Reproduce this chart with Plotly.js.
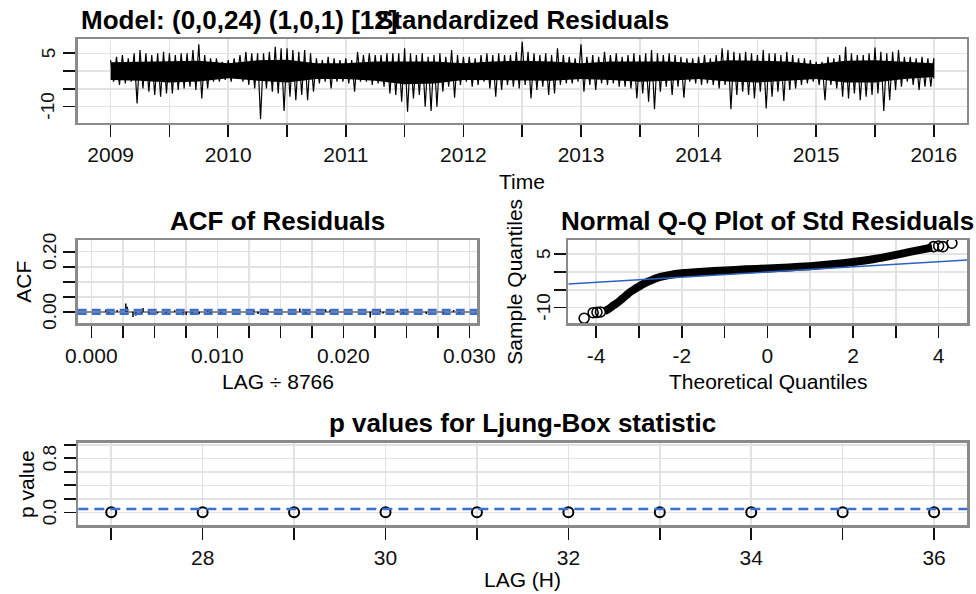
<!DOCTYPE html>
<html><head><meta charset="utf-8">
<script src="https://cdn.plot.ly/plotly-3.0.1.min.js"></script>
<style>html,body{margin:0;padding:0;background:#fff}#chart{width:976px;height:594px}</style>
</head><body><div id="chart"></div>
<script>
// ---------- Standardized residuals (envelope read per 0.05 year) ----------
const tsStart = 2009, tsStep = 0.05;
const tsHigh = [
 3.1,4.0,4.5,3.6,5.0,5.9,5.0,4.5,5.0,5.4, 5.0,4.5,5.0,5.0,5.9,7.5,4.5,3.6,3.6,2.6,
 3.1,3.6,4.5,5.4,5.0,5.0,5.0,5.4,6.8,6.4, 6.4,5.9,5.4,5.9,5.0,3.6,3.1,4.0,3.6,3.1,
 3.6,3.1,5.4,4.5,5.0,4.5,4.5,5.0,5.0,5.0, 6.4,5.0,4.5,5.0,4.0,4.5,5.0,4.0,5.9,4.5,
 4.0,4.0,3.6,4.5,5.0,4.5,5.0,4.5,4.5,5.4, 8.2,5.4,5.0,4.5,5.0,4.5,6.4,4.5,4.0,3.6,
 7.5,4.0,4.5,4.0,5.4,4.5,5.0,4.0,4.5,5.0, 4.5,5.0,5.9,5.0,4.5,5.0,4.5,4.0,3.6,3.6,
 4.0,4.5,3.6,4.5,6.4,5.9,5.4,5.0,5.4,5.0, 4.5,5.9,5.0,5.0,4.5,5.4,4.5,3.6,3.6,3.1,
 2.6,2.6,4.0,3.6,4.5,6.8,5.0,4.5,4.5,5.0, 6.6,5.4,5.0,5.4,5.9,4.0,4.0,3.6,4.0,3.6,
 3.6];
const tsLow = [
 -3.0,-3.9,-3.5,-3.0,-9.1,-4.9,-5.8,-6.7,-7.2,-6.3, -6.3,-5.3,-4.9,-4.4,-5.3,-7.7,-4.9,-3.0,-3.0,-2.5,
 -3.0,-2.1,-3.0,-3.9,-4.9,-13.5,-4.9,-5.8,-6.3,-11.2, -7.2,-8.2,-6.7,-8.2,-5.8,-3.5,-3.0,-4.9,-3.0,-3.0,
 -3.5,-5.8,-3.0,-3.0,-3.9,-3.5,-4.4,-6.3,-6.7,-8.6, -11.4,-7.7,-6.7,-10.0,-11.2,-10.0,-5.8,-4.4,-7.5,-3.9,
 -3.0,-4.4,-3.9,-3.0,-4.9,-7.2,-5.3,-3.9,-4.4,-4.9, -3.9,-7.7,-5.3,-4.4,-6.7,-6.3,-3.9,-3.5,-3.5,-3.0,
 -5.8,-3.9,-5.3,-3.5,-3.9,-3.5,-4.4,-4.4,-4.9,-7.7, -6.3,-8.6,-10.7,-5.8,-4.4,-6.7,-4.4,-7.5,-3.0,-3.5,
 -3.9,-3.5,-3.9,-4.9,-3.9,-10.7,-6.7,-5.8,-6.7,-7.7, -5.8,-10.5,-7.2,-5.8,-8.4,-5.3,-4.9,-3.9,-3.5,-3.0,
 -3.9,-8.2,-3.9,-4.9,-7.2,-7.7,-6.3,-8.2,-7.2,-6.7, -6.3,-11.2,-8.2,-5.3,-4.4,-3.0,-3.9,-5.3,-4.4,-4.4,
 -2.1];
// solid core of the series, read per quarter year
const coreTime = [2009,2009.25,2009.5,2009.75,2010,2010.25,2010.5,2010.75,2011,2011.25,2011.5,2011.75,2012,2012.25,2012.5,2012.75,2013,2013.25,2013.5,2013.75,2014,2014.25,2014.5,2014.75,2015,2015.25,2015.5,2015.75,2016];
const coreHigh = [2.5,2.7,2.7,2.9,2.2,3.0,3.2,2.2,2.2,2.7,2.7,2.7,2.2,2.7,2.9,2.7,2.2,2.7,2.7,2.7,2.2,3.0,2.9,2.7,1.9,2.9,3.0,2.5,2.2];
const coreLow  = [-2.5,-2.7,-3.2,-2.9,-2.0,-2.7,-3.2,-2.2,-2.2,-2.7,-3.7,-3.5,-2.5,-2.7,-2.7,-2.7,-2.2,-2.5,-3.0,-2.7,-2.2,-2.9,-3.2,-2.7,-2.2,-3.2,-3.2,-2.2,-1.7];
const topTickVals = [2009,2009.5,2010,2010.5,2011,2011.5,2012,2012.5,2013,2013.5,2014,2014.5,2015,2015.5,2016];
const topTickText = ['2009','','2010','','2011','','2012','','2013','','2014','','2015','','2016'];
const topYTicks = [-10,-5,0,5];
const topYText = ['-10','','','5'];

// ---------- ACF of residuals ----------
const acfFreq = 8766;
const acfLagHours = [10,12,18,24,25,29,31,35,36,40,46,52,58,64,66,70,75,81,83,90,113,116,123,145,149,163,166,194,201,203,213,217,233,245,252,256];
const acfValues = [0.007,-0.006,0.006,0.028,0.017,-0.017,-0.013,-0.009,0.013,-0.006,-0.005,-0.006,0.005,-0.011,-0.010,-0.009,-0.008,0.006,-0.007,-0.009,0.006,-0.007,0.005,0.011,-0.005,0.009,0.006,-0.019,0.009,-0.005,0.005,-0.006,-0.007,-0.005,0.006,-0.004];
const acfBound = 0.0065;
const acfTickVals = [0,0.0025,0.005,0.0075,0.01,0.0125,0.015,0.0175,0.02,0.0225,0.025,0.0275,0.03];
const acfTickText = ['0.000','','','','0.010','','','','0.020','','','','0.030'];
const acfYTicks = [0,0.05,0.1,0.15,0.2];
const acfYText = ['0.00','','','','0.20'];

// ---------- Normal Q-Q ----------
const qqBandTheo   = [-3.8,-3.7,-3.6,-3.5,-3.4,-3.3,-3.2,-3.1,-3.0,-2.9,-2.8,-2.7,-2.6,-2.5,-2.3,-2.0,-1.5,-1.0,-0.5,0,0.5,1.0,1.5,2.0,2.5,3.0,3.3,3.6,3.85];
const qqBandSample = [-11.0,-10.3,-9.4,-8.6,-7.6,-6.6,-5.6,-4.8,-4.1,-3.4,-2.8,-2.3,-1.8,-1.4,-0.9,-0.4,0.05,0.4,0.7,0.95,1.25,1.6,2.1,2.75,3.6,4.75,5.5,6.2,6.8];
const qqTailTheo   = [-4.28,-4.07,-3.98,-3.9,3.88,4.0,4.1,4.31];
const qqTailSample = [-12.96,-11.4,-11.3,-11.2,7.04,7.23,7.04,8.0];
const qqLineIntercept = -0.03, qqLineSlope = 0.72;
const qqXTicks = [-4,-3,-2,-1,0,1,2,3,4];
const qqXText = ['-4','','-2','','0','','2','','4'];

// ---------- Ljung-Box ----------
const lbLags = [27,28,29,30,31,32,33,34,35,36];
const lbPvalues = [0,0,0,0,0,0,0,0,0,0];
const sigLevel = 0.05;
const lbYTicks = [0,0.2,0.4,0.6,0.8,1.0];
const lbYText = ['0.0','','','','0.8',''];

// ---------- build ----------
const F = 'Liberation Sans, Arial, Helvetica, sans-serif';
const zx = [], zy = [];
tsHigh.forEach((h, i) => {
  const t = tsStart + i * tsStep;
  zx.push(t); zy.push(h);
  if (i < tsHigh.length - 1) { zx.push(t + tsStep / 2); zy.push(tsLow[i]); }
  else { zx.push(t); zy.push(tsLow[i]); }
});
const acfX = [], acfY = [];
acfLagHours.forEach((l, i) => { acfX.push(l / acfFreq, l / acfFreq, null); acfY.push(0, acfValues[i], null); });

const qqRange = [-4.65, 4.67];

const traces = [
  {x: coreTime.concat(coreTime.slice().reverse()), y: coreHigh.concat(coreLow.slice().reverse()),
   fill:'toself', fillcolor:'#000', mode:'lines', line:{width:0, color:'#000'}, xaxis:'x', yaxis:'y', hoverinfo:'skip'},
  {x: zx, y: zy, mode:'lines', line:{color:'#000', width:1.2}, xaxis:'x', yaxis:'y', hoverinfo:'skip'},
  {x: acfX, y: acfY, mode:'lines', line:{color:'#000', width:1.5}, xaxis:'x2', yaxis:'y2', hoverinfo:'skip'},
  {x: qqBandTheo, y: qqBandSample, mode:'lines', line:{color:'#000', width:8, shape:'spline', smoothing:0.6}, xaxis:'x3', yaxis:'y3', hoverinfo:'skip'},
  {x: qqTailTheo, y: qqTailSample, mode:'markers', marker:{symbol:'circle-open', size:10, color:'#000', line:{width:1.6, color:'#000'}}, xaxis:'x3', yaxis:'y3', hoverinfo:'skip'},
  {x: qqRange, y: qqRange.map(v => qqLineIntercept + qqLineSlope * v), mode:'lines', line:{color:'#2e62c0', width:1.6}, xaxis:'x3', yaxis:'y3', hoverinfo:'skip'},
  {x: lbLags, y: lbPvalues, mode:'markers', marker:{symbol:'circle-open', size:10, color:'#000', line:{width:2, color:'#000'}}, xaxis:'x4', yaxis:'y4', hoverinfo:'skip'}
];

function ax(extra) {
  return Object.assign({
    showline:true, mirror:true, linecolor:'#8a8a8a', linewidth:2.5,
    showgrid:true, gridcolor:'#e2e2e2', gridwidth:1.5, zeroline:false,
    ticks:'outside', ticklen:12, tickwidth:1.6, tickcolor:'#111',
    tickmode:'array', tickfont:{family:F, size:21, color:'#111'}, fixedrange:true
  }, extra);
}
function yax(vals, extra) {
  // y tick labels are drawn as rotated annotations below
  return ax(Object.assign({tickvals: vals, ticktext: vals.map(() => '')}, extra));
}
const W = 976, H = 594;
const px = v => v / W, py = v => 1 - v / H;

function ann(text, x, y, size, bold, extra) {
  return Object.assign({text: bold ? '<b>' + text + '</b>' : text, x: px(x), y: py(y), xref:'paper', yref:'paper',
    showarrow:false, xanchor:'center', yanchor:'middle', font:{family:F, size:size, color:'#000'}}, extra || {});
}
function yLabels(vals, texts, yref, xpix) {
  const out = [];
  vals.forEach((v, i) => {
    if (!texts[i]) return;
    out.push({text: texts[i], x: px(xpix), xref:'paper', y: v, yref: yref, textangle:-90, showarrow:false,
      xanchor:'center', yanchor:'middle', font:{family:F, size:19, color:'#111'}});
  });
  return out;
}

const layout = {
  width: W, height: H, margin:{l:0, r:0, t:0, b:0},
  paper_bgcolor:'#fff', plot_bgcolor:'#fff', showlegend:false,
  xaxis: ax({domain:[px(77.7), px(966.7)], range:[2008.72, 2016.28], tickvals:topTickVals, ticktext:topTickText, anchor:'y'}),
  yaxis: yax(topYTicks, {domain:[py(122.7), py(39)], range:[-14.5, 9.0], anchor:'x'}),
  xaxis2: ax({domain:[px(77.7), px(477.3)], range:[-0.00108, 0.03063], tickvals:acfTickVals, ticktext:acfTickText, anchor:'y2'}),
  yaxis2: yax(acfYTicks, {domain:[py(323.3), py(240)], range:[-0.038, 0.239], anchor:'x2',
               zeroline:true, zerolinecolor:'#8a8a8a', zerolinewidth:1.5}),
  xaxis3: ax({domain:[px(568.3), px(967.3)], range:qqRange, tickvals:qqXTicks, ticktext:qqXText, anchor:'y3'}),
  yaxis3: yax(topYTicks, {domain:[py(323.3), py(240)], range:[-14.36, 8.9], anchor:'x3'}),
  xaxis4: ax({domain:[px(78.3), px(967)], range:[26.64, 36.36], tickvals:lbLags, ticktext:lbLags.map(v => v % 2 === 0 ? String(v) : ''), anchor:'y4'}),
  yaxis4: yax(lbYTicks, {domain:[py(525), py(442.7)], range:[-0.188, 1.031], anchor:'x4'}),
  shapes: [
    {type:'line', xref:'x2 domain', yref:'y2', x0:0, x1:1, y0:acfBound, y1:acfBound, line:{color:'#3a6fd0', width:2.5, dash:'9px,5px'}, layer:'above'},
    {type:'line', xref:'x2 domain', yref:'y2', x0:0, x1:1, y0:-acfBound, y1:-acfBound, line:{color:'#3a6fd0', width:2.5, dash:'9px,5px'}, layer:'above'},
    {type:'line', xref:'x4 domain', yref:'y4', x0:0, x1:1, y0:sigLevel, y1:sigLevel, line:{color:'#3a6fd0', width:2.5, dash:'10px,6px'}, layer:'above'}
  ],
  annotations: [
    ann('Model: (0,0,24) (1,0,1) [12]', 79, 20, 26, true, {xanchor:'left'}),
    ann('Standardized Residuals', 522, 20, 26, true),
    ann('ACF of Residuals', 277.5, 221, 26, true),
    ann('Normal Q-Q Plot of Std Residuals', 767.8, 221, 26, true),
    ann('p values for Ljung-Box statistic', 522.6, 423, 26, true),
    ann('Time', 522, 181, 21, false),
    ann('LAG ÷ 8766', 277.5, 381, 21, false),
    ann('Theoretical Quantiles', 767.8, 381, 21, false),
    ann('LAG (H)', 522.6, 579, 21, false),
    ann('ACF', 24, 281.7, 21, false, {textangle:-90}),
    ann('Sample Quantiles', 515, 281.7, 21, false, {textangle:-90}),
    ann('p value', 26, 484, 21, false, {textangle:-90})
  ].concat(
    yLabels(topYTicks, topYText, 'y', 48),
    yLabels(acfYTicks, acfYText, 'y2', 50),
    yLabels(topYTicks, topYText, 'y3', 544),
    yLabels(lbYTicks, lbYText, 'y4', 49)
  )
};
Plotly.newPlot('chart', traces, layout, {staticPlot:true, displayModeBar:false});
</script></body></html>
